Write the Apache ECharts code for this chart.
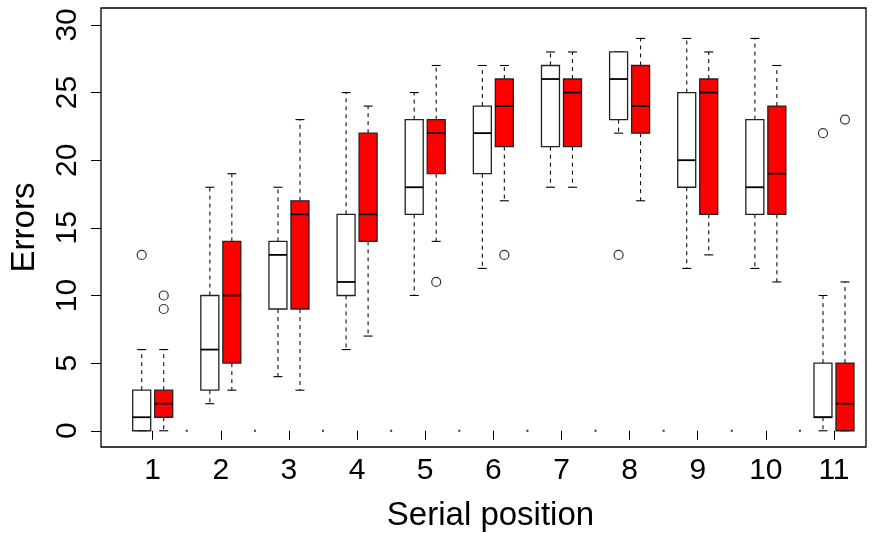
<!DOCTYPE html>
<html>
<head>
<meta charset="utf-8">
<script src="https://cdn.jsdelivr.net/npm/echarts@6/dist/echarts.min.js"></script>
<style>html,body{margin:0;padding:0;background:#fff}#chart{width:873px;height:533px}</style>
</head>
<body>
<div id="chart"></div>
<script>
// Serial positions
var positions = [1, 2, 3, 4, 5, 6, 7, 8, 9, 10, 11];
// [lower whisker, Q1, median, Q3, upper whisker]
var whiteStats = [
  [0, 0, 1, 3, 6],
  [2, 3, 6, 10, 18],
  [4, 9, 13, 14, 18],
  [6, 10, 11, 16, 25],
  [10, 16, 18, 23, 25],
  [12, 19, 22, 24, 27],
  [18, 21, 26, 27, 28],
  [22, 23, 26, 28, 28],
  [12, 18, 20, 25, 29],
  [12, 16, 18, 23, 29],
  [0, 1, 1, 5, 10]
];
var redStats = [
  [0, 1, 2, 3, 6],
  [3, 5, 10, 14, 19],
  [3, 9, 16, 17, 23],
  [7, 14, 16, 22, 24],
  [14, 19, 22, 23, 27],
  [17, 21, 24, 26, 27],
  [18, 21, 25, 26, 28],
  [17, 22, 24, 27, 29],
  [13, 16, 25, 26, 28],
  [11, 16, 19, 24, 27],
  [0, 0, 2, 5, 11]
];
// outliers: [position, value]
var whiteOutliers = [[1, 13], [8, 13], [11, 22]];
var redOutliers = [[1, 10], [1, 9], [5, 11], [6, 13], [11, 23]];
// empty third group markers between positions: [position, value]
var emptyGroup = [[1, 0], [2, 0], [3, 0], [4, 0], [5, 0], [6, 0], [7, 0], [8, 0], [9, 0], [10, 0]];
var yTicks = [0, 5, 10, 15, 20, 25, 30];

var OFF = 0.1615;
var EMPTY_OFF = 0.5;

function buildData(stats) {
  return stats.map(function (s, i) { return [positions[i]].concat(s); });
}

function boxRender(offset, fill) {
  return function (params, api) {
    var x = api.value(0) + offset;
    var pMin = api.coord([x, api.value(1)]);
    var pQ1 = api.coord([x, api.value(2)]);
    var pMed = api.coord([x, api.value(3)]);
    var pQ3 = api.coord([x, api.value(4)]);
    var pMax = api.coord([x, api.value(5)]);
    var cx = pMed[0];
    var hw = 9, cw = 4.5;
    var dash = { stroke: '#111', lineWidth: 1.1, lineDash: [4, 4] };
    var solid = { stroke: '#000', lineWidth: 1.1 };
    return {
      type: 'group',
      children: [
        { type: 'line', shape: { x1: cx, y1: pQ3[1], x2: cx, y2: pMax[1] }, style: dash },
        { type: 'line', shape: { x1: cx, y1: pQ1[1], x2: cx, y2: pMin[1] }, style: dash },
        { type: 'line', shape: { x1: cx - cw, y1: pMax[1], x2: cx + cw, y2: pMax[1] }, style: solid },
        { type: 'line', shape: { x1: cx - cw, y1: pMin[1], x2: cx + cw, y2: pMin[1] }, style: solid },
        { type: 'rect', shape: { x: cx - hw, y: pQ3[1], width: 2 * hw, height: pQ1[1] - pQ3[1] },
          style: { fill: fill, stroke: '#222', lineWidth: 1.3 } },
        { type: 'line', shape: { x1: cx - hw, y1: pMed[1], x2: cx + hw, y2: pMed[1] },
          style: { stroke: '#000', lineWidth: 1.8 } }
      ]
    };
  };
}

function shift(arr, off) {
  return arr.map(function (d) { return [d[0] + off, d[1]]; });
}

var chart = echarts.init(document.getElementById('chart'), null, { renderer: 'canvas' });
var font = 'Liberation Sans, Arial, Helvetica, sans-serif';
chart.setOption({
  animation: false,
  backgroundColor: '#fff',
  grid: { left: 101, right: 7, top: 8, bottom: 86, containLabel: false, outerBoundsMode: 'none',
    show: true, borderColor: '#000', borderWidth: 1.3, backgroundColor: 'transparent' },
  xAxis: {
    type: 'value', min: 0.241, max: 11.47,
    name: 'Serial position', nameLocation: 'middle', nameGap: 52,
    nameTextStyle: { fontFamily: font, fontSize: 33, color: '#000', padding: [0, 0, 0, 14] },
    axisLine: { show: false },
    splitLine: { show: false },
    axisTick: { show: true, length: 9, lineStyle: { color: '#000', width: 1 }, customValues: positions },
    axisLabel: { customValues: positions, fontFamily: font, fontSize: 30, color: '#000', margin: 9, lineHeight: 30 }
  },
  yAxis: {
    type: 'value', min: -1.2, max: 31.25,
    name: 'Errors', nameLocation: 'middle', nameGap: 60, nameRotate: 90,
    nameTextStyle: { fontFamily: font, fontSize: 33, color: '#000' },
    axisLine: { show: false },
    splitLine: { show: false },
    axisTick: { show: true, length: 10, lineStyle: { color: '#000', width: 1 }, customValues: yTicks },
    axisLabel: { customValues: yTicks, rotate: 90, fontFamily: font, fontSize: 30, color: '#000', margin: 18, lineHeight: 30 }
  },
  series: [
    { type: 'custom', name: 'white', renderItem: boxRender(-OFF, '#fff'), data: buildData(whiteStats), encode: { x: 0, y: [1, 2, 3, 4, 5] }, z: 2 },
    { type: 'custom', name: 'red', renderItem: boxRender(OFF, '#ff0000'), data: buildData(redStats), encode: { x: 0, y: [1, 2, 3, 4, 5] }, z: 2 },
    { type: 'scatter', data: shift(whiteOutliers, -OFF), symbol: 'circle', symbolSize: 9,
      itemStyle: { color: 'rgba(0,0,0,0)', borderColor: '#000', borderWidth: 1.2 }, z: 3 },
    { type: 'scatter', data: shift(redOutliers, OFF), symbol: 'circle', symbolSize: 9,
      itemStyle: { color: 'rgba(0,0,0,0)', borderColor: '#000', borderWidth: 1.2 }, z: 3 },
    { type: 'scatter', data: shift(emptyGroup, EMPTY_OFF), symbol: 'rect', symbolSize: 2,
      itemStyle: { color: '#000' }, z: 3 }
  ]
});
</script>
</body>
</html>
